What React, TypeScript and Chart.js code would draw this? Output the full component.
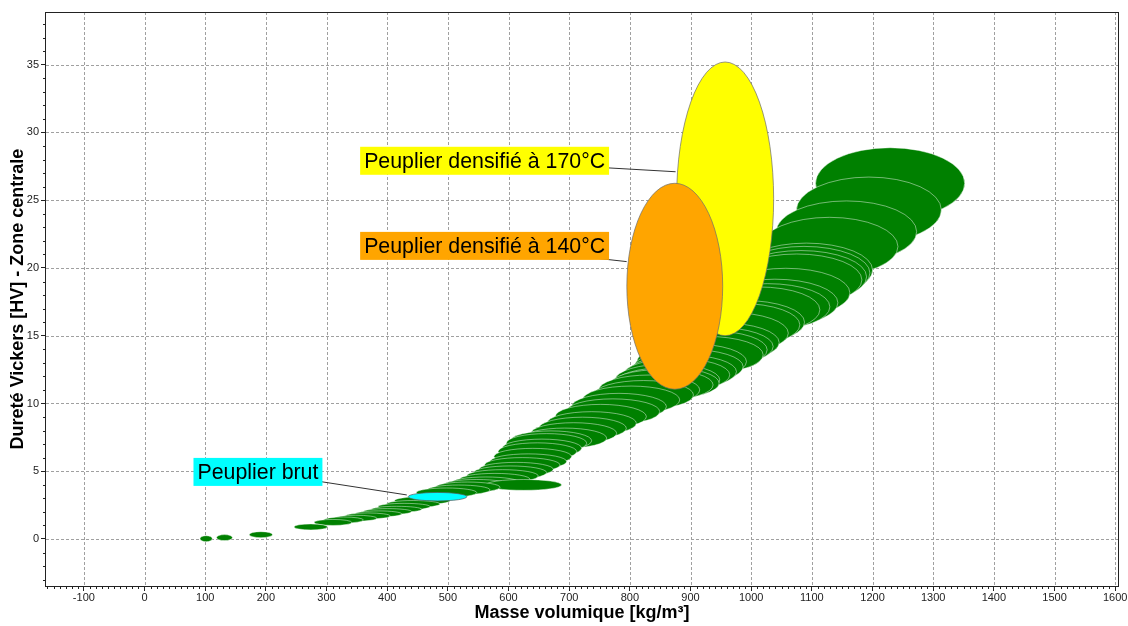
import React, { useEffect, useRef } from "react";
import { Chart, registerables } from "chart.js";

Chart.register(...registerables);

// ---------- DATA ----------
// Green cloud: density [kg/m3] and Vickers hardness [HV] (ellipse spread = +/-10 %)
const greenDensity = [
  101.6, 131.8, 191.8, 274, 310.6, 328, 348, 368, 385.5, 400.5, 415.4, 427.9, 442.8, 457.8,
  497.8, 517.7, 532.7, 547.7, 625, 562.7, 577.6, 590, 602.6, 612.6, 622.6, 632.6, 640, 647.6,
  655, 662.6, 670, 692.5, 707.5, 722, 737, 752, 772, 782, 802, 822.6, 832, 852, 861, 862, 877,
  887, 897, 902, 927, 933, 942, 951, 964.7, 982, 989, 1012, 1027, 1039, 1057, 1075, 1082, 1087,
  1091, 1129, 1157, 1194, 1229,
];
const greenHardness = [
  0.02, 0.1, 0.32, 0.89, 1.22, 1.4, 1.53, 1.7, 1.85, 2.02, 2.19, 2.39, 2.58, 2.83,
  3.42, 3.62, 3.82, 3.99, 3.99, 4.16, 4.4, 4.65, 4.9, 5.14, 5.46, 5.71, 6.08, 6.45,
  6.7, 7.07, 7.25, 7.44, 7.8, 8.17, 8.54, 9.03, 9.4, 9.77, 10.26, 10.63, 11.0, 11.37, 11.5, 11.74, 12.11,
  12.35, 12.72, 13.09, 13.59, 13.96, 14.2, 14.5, 15.19, 15.8, 16.0, 16.91, 17.13, 17.43, 18.16, 19.12, 19.35, 19.63,
  19.85, 21.58, 22.68, 24.28, 26.25,
];
const GREEN_SPREAD = 0.1;

// Raw poplar
const rawDensity = [483];
const rawHardness = [3.12];

// Densified poplar 140 °C
const d140Density = [874];
const d140Hardness = [18.65];
const d140DensityErr = [79];
const d140HardnessErr = [7.6];

// Densified poplar 170 °C
const d170Density = [957];
const d170Hardness = [25.1];
const d170DensityErr = [80];
const d170HardnessErr = [10.1];

// Axes
const xTickValues = [-100, 0, 100, 200, 300, 400, 500, 600, 700, 800, 900, 1000, 1100, 1200, 1300, 1400, 1500, 1600];
const yTickValues = [0, 5, 10, 15, 20, 25, 30, 35];
const X_MIN = -162.4;
const X_MAX = 1604.6;
const Y_MIN = -3.47;
const Y_MAX = 38.89;

const xTitle = "Masse volumique [kg/m³]";
const yTitle = "Dureté Vickers [HV] - Zone centrale";

const annotations = [
  { text: "Peuplier densifié à 170°C", bg: "#FFFF00", boxX: 355.4, boxY: 27.91, toX: 875.4, toY: 27.1 },
  { text: "Peuplier densifié à 140°C", bg: "#FFA500", boxX: 355.4, boxY: 21.63, toX: 794.7, toY: 20.47 },
  { text: "Peuplier brut", bg: "#00FFFF", boxX: 80.7, boxY: 4.95, toX: 432.3, toY: 3.25 },
];

// ---------- HELPERS ----------
const tickFont = "'Liberation Sans Narrow', 'Arial Narrow', 'Liberation Sans', Arial, sans-serif";
const mainFont = "'Liberation Sans', Arial, sans-serif";

function drawEllipse(ctx: any, xs: any, ys: any, p: any, fill: string, stroke: string, lw: number) {
  const px = xs.getPixelForValue(p.x);
  const py = ys.getPixelForValue(p.y);
  const rx = Math.abs(xs.getPixelForValue(p.x + p.dx) - px);
  const ry = Math.max(3, Math.abs(ys.getPixelForValue(p.y + p.dy) - py));
  ctx.beginPath();
  ctx.ellipse(px, py, rx, ry, 0, 0, Math.PI * 2);
  ctx.fillStyle = fill;
  ctx.fill();
  ctx.strokeStyle = stroke;
  ctx.lineWidth = lw;
  ctx.stroke();
}

const backgroundGridPlugin = {
  id: "bgGrid",
  beforeDatasetsDraw(chart: any) {
    const { ctx, chartArea: a, scales } = chart;
    const xs = scales.x, ys = scales.y;
    ctx.save();
    ctx.strokeStyle = "#a0a0a0";
    ctx.lineWidth = 1;
    ctx.setLineDash([3, 2]);
    for (const v of xTickValues) {
      const px = Math.round(xs.getPixelForValue(v)) + 0.5;
      ctx.beginPath();
      ctx.moveTo(px, a.top);
      ctx.lineTo(px, a.bottom);
      ctx.stroke();
    }
    for (const v of yTickValues) {
      const py = Math.round(ys.getPixelForValue(v)) + 0.5;
      ctx.beginPath();
      ctx.moveTo(a.left, py);
      ctx.lineTo(a.right, py);
      ctx.stroke();
    }
    ctx.restore();
  },
};

const ellipsePlugin = {
  id: "ellipses",
  afterDatasetsDraw(chart: any) {
    const { ctx, chartArea: a, scales } = chart;
    const xs = scales.x, ys = scales.y;
    ctx.save();
    ctx.beginPath();
    ctx.rect(a.left, a.top, a.right - a.left, a.bottom - a.top);
    ctx.clip();
    const ds = chart.data.datasets;
    const green = [...ds[0].data].sort((p: any, q: any) => q.y - p.y);
    for (const p of green) drawEllipse(ctx, xs, ys, p, "#008000", "rgba(255,255,255,0.45)", 1);
    for (const p of ds[1].data) drawEllipse(ctx, xs, ys, p, "#00FFFF", "rgba(90,90,90,0.7)", 1);
    for (const p of ds[3].data) drawEllipse(ctx, xs, ys, p, "#FFFF00", "rgba(110,110,110,0.7)", 1);
    for (const p of ds[2].data) drawEllipse(ctx, xs, ys, p, "#FFA500", "rgba(110,110,110,0.7)", 1);
    ctx.restore();

    // frame
    ctx.save();
    ctx.strokeStyle = "#222";
    ctx.lineWidth = 1;
    ctx.strokeRect(Math.round(a.left) - 0.5, Math.round(a.top) + 0.5, Math.round(a.right - a.left) + 1, Math.round(a.bottom - a.top));
    // minor ticks
    ctx.beginPath();
    for (let v = -160; v <= 1600; v += 10) {
      if (v % 100 === 0) continue;
      const px = Math.round(xs.getPixelForValue(v)) + 0.5;
      ctx.moveTo(px, a.bottom);
      ctx.lineTo(px, a.bottom + 3);
    }
    for (let v = -3; v <= 38; v += 1) {
      if (v % 5 === 0) continue;
      const py = Math.round(ys.getPixelForValue(v)) + 0.5;
      ctx.moveTo(a.left - 3, py);
      ctx.lineTo(a.left, py);
    }
    ctx.stroke();
    ctx.restore();

    // annotations
    ctx.save();
    ctx.font = `21.33px ${mainFont}`;
    ctx.textBaseline = "middle";
    for (const an of annotations) {
      const w = ctx.measureText(an.text).width + 8;
      const h = 28;
      const bx = xs.getPixelForValue(an.boxX);
      const by = ys.getPixelForValue(an.boxY);
      const tx = xs.getPixelForValue(an.toX);
      const ty = ys.getPixelForValue(an.toY);
      ctx.strokeStyle = "#333";
      ctx.lineWidth = 1;
      ctx.beginPath();
      ctx.moveTo(bx + w / 2, by);
      ctx.lineTo(tx, ty);
      ctx.stroke();
      ctx.fillStyle = an.bg;
      ctx.fillRect(bx, by - h / 2, w, h);
      ctx.fillStyle = "#000";
      ctx.fillText(an.text, bx + 4, by + 1);
    }
    ctx.restore();
  },
};

export default function App() {
  const canvasRef = useRef<HTMLCanvasElement | null>(null);

  useEffect(() => {
    document.body.style.margin = "0";
    const canvas = canvasRef.current;
    if (!canvas) return;
    const toPts = (xs: number[], ys: number[], dxs?: number[], dys?: number[]) =>
      xs.map((x, i) => ({
        x,
        y: ys[i],
        dx: dxs ? dxs[i] : x * GREEN_SPREAD,
        dy: dys ? dys[i] : ys[i] * GREEN_SPREAD,
      }));

    const chart = new Chart(canvas, {
      type: "scatter",
      data: {
        datasets: [
          { label: "green", data: toPts(greenDensity, greenHardness), pointRadius: 0 } as any,
          { label: "Peuplier brut", data: toPts(rawDensity, rawHardness), pointRadius: 0 } as any,
          { label: "140", data: toPts(d140Density, d140Hardness, d140DensityErr, d140HardnessErr), pointRadius: 0 } as any,
          { label: "170", data: toPts(d170Density, d170Hardness, d170DensityErr, d170HardnessErr), pointRadius: 0 } as any,
        ],
      },
      options: {
        animation: false,
        responsive: false,
        devicePixelRatio: 1,
        events: [],
        layout: { padding: { top: 12, right: 10, left: 0, bottom: 0 } },
        plugins: { legend: { display: false }, tooltip: { enabled: false } },
        scales: {
          x: {
            type: "linear",
            min: X_MIN,
            max: X_MAX,
            afterBuildTicks: (s: any) => {
              s.ticks = xTickValues.map((v) => ({ value: v }));
            },
            afterFit: (s: any) => {
              s.height = 40;
            },
            grid: { display: true, drawOnChartArea: false, drawTicks: true, tickLength: 5, tickColor: "#222" },
            border: { display: false },
            ticks: {
              autoSkip: false,
              maxRotation: 0,
              padding: 0,
              color: "#222",
              font: { family: tickFont, size: 11 },
              callback: (v: any) => String(v),
            },
            title: {
              display: true,
              text: xTitle,
              color: "#000",
              font: { family: mainFont, size: 18, weight: "bold" },
              padding: { top: 0, bottom: 2.2 },
            },
          },
          y: {
            type: "linear",
            min: Y_MIN,
            max: Y_MAX,
            afterBuildTicks: (s: any) => {
              s.ticks = yTickValues.map((v) => ({ value: v }));
            },
            afterFit: (s: any) => {
              s.width = 46;
            },
            grid: { display: true, drawOnChartArea: false, drawTicks: true, tickLength: 5, tickColor: "#222" },
            border: { display: false },
            ticks: {
              autoSkip: false,
              padding: 2,
              color: "#222",
              font: { family: tickFont, size: 11 },
              callback: (v: any) => String(v),
            },
            title: {
              display: true,
              text: yTitle,
              color: "#000",
              font: { family: mainFont, size: 18, weight: "bold" },
              padding: { top: 7.7, bottom: 0 },
            },
          },
        },
      } as any,
      plugins: [backgroundGridPlugin, ellipsePlugin],
    });
    return () => chart.destroy();
  }, []);

  return (
    <div style={{ position: "fixed", left: 0, top: 0, width: 1128, height: 626, background: "#fff" }}>
      <canvas ref={canvasRef} width={1128} height={626} style={{ width: 1128, height: 626, display: "block" }} />
    </div>
  );
}
